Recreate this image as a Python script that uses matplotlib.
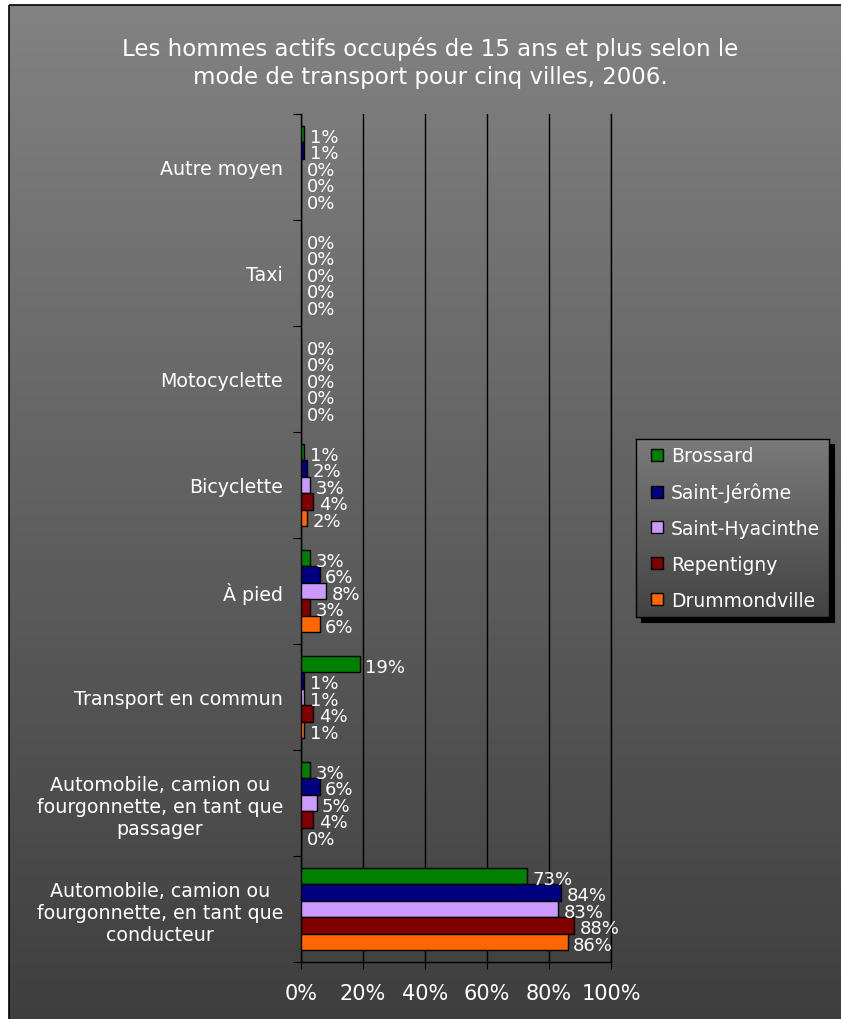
"""
Men 15+ employed, by mode of transport, five cities (2006) - horizontal grouped bars.
Saves out.png
"""

import matplotlib.pyplot as plt
import numpy as np
from matplotlib.lines import Line2D
from matplotlib.patches import Rectangle

plt.rcParams["font.family"] = ["DejaVu Sans"]

W, H = 841, 1020

CATEGORIES = [
    "Automobile, camion ou\nfourgonnette, en tant que\nconducteur",
    "Automobile, camion ou\nfourgonnette, en tant que\npassager",
    "Transport en commun",
    "À pied",
    "Bicyclette",
    "Motocyclette",
    "Taxi",
    "Autre moyen",
]

CITIES = ["Brossard", "Saint-Jérôme", "Saint-Hyacinthe", "Repentigny", "Drummondville"]
COLORS = ["#008000", "#000080", "#CC99FF", "#800000", "#FF6600"]

# percent values, same order as CATEGORIES
BROSSARD = [73, 3, 19, 3, 1, 0, 0, 1]
SAINT_JEROME = [84, 6, 1, 6, 2, 0, 0, 1]
SAINT_HYACINTHE = [83, 5, 1, 8, 3, 0, 0, 0]
REPENTIGNY = [88, 4, 4, 3, 4, 0, 0, 0]
DRUMMONDVILLE = [86, 0, 1, 6, 2, 0, 0, 0]

SERIES = [BROSSARD, SAINT_JEROME, SAINT_HYACINTHE, REPENTIGNY, DRUMMONDVILLE]

X_TICKS = [0, 20, 40, 60, 80, 100]


def px_box(left, top, right, bottom):
    """Figure-fraction rect from pixel coordinates (origin top-left)."""
    return [left / W, 1 - bottom / H, (right - left) / W, (bottom - top) / H]


def gradient(top_gray, bottom_gray, n=256):
    col = np.linspace(top_gray, bottom_gray, n)[:, None]
    return np.dstack([col, col, col])


fig = plt.figure(figsize=(W / 100, H / 100), dpi=100)
fig.patch.set_facecolor("white")

# background panel with vertical gradient
bg = fig.add_axes([0, 0, 1, 1], zorder=-10)
bg.set_xlim(0, W)
bg.set_ylim(H, 0)
bg.axis("off")
bg.imshow(gradient(0.51, 0.245), extent=(9, W, H, 6), aspect="auto", interpolation="bicubic")
bg.add_patch(Rectangle((9, 6), W, H, fill=False, edgecolor="black", linewidth=1.2))

fig.text(0.512, 1 - 63 / H,
         "Les hommes actifs occupés de 15 ans et plus selon le\nmode de transport pour cinq villes, 2006.",
         ha="center", va="center", color="white", fontsize=16.5, linespacing=1.3)

ax = fig.add_axes(px_box(301, 115, 611, 963))
ax.patch.set_alpha(0)

bar_h = 0.155
y_base = np.arange(len(CATEGORIES))
for j, (values, color) in enumerate(zip(SERIES, COLORS)):
    y = y_base + (2 - j) * bar_h
    ax.barh(y, values, height=bar_h, color=color, edgecolor="black", linewidth=1, zorder=3)
    for yy, v in zip(y, values):
        ax.annotate(f"{v}%", (v, yy), xytext=(4, -2), textcoords="offset points",
                    ha="left", va="center", color="white", fontsize=13, zorder=4)

ax.set_xlim(0, 100)
ax.set_ylim(-0.5, len(CATEGORIES) - 0.5)

ax.set_xticks(X_TICKS)
ax.set_xticklabels([f"{t}%" for t in X_TICKS], color="white", fontsize=15)
ax.tick_params(axis="x", direction="out", length=5, color="black", pad=10)

ax.set_yticks(np.arange(len(CATEGORIES) + 1) - 0.5)
ax.set_yticklabels([])
ax.set_yticks(y_base, minor=True)
ax.set_yticklabels(CATEGORIES, minor=True, color="white", fontsize=13.7)
for lbl in ax.get_yticklabels(minor=True):
    lbl.set_multialignment("center")
ax.tick_params(axis="y", which="major", direction="out", length=6, color="black")
ax.tick_params(axis="y", which="minor", length=0, pad=13)

ax.grid(axis="x", color="black", linewidth=1, zorder=0)
ax.set_axisbelow(True)
ax.spines["top"].set_visible(False)
for side in ("left", "bottom", "right"):
    ax.spines[side].set_color("black")
    ax.spines[side].set_linewidth(1)

# legend box with shadow and its own gradient
shadow = fig.add_axes(px_box(641, 445, 834, 623), zorder=4)
shadow.set_facecolor("black")
shadow.set_xticks([])
shadow.set_yticks([])

leg_ax = fig.add_axes(px_box(636, 440, 829, 618), zorder=5)
leg_ax.imshow(gradient(0.48, 0.26), extent=(0, 1, 0, 1), aspect="auto", interpolation="bicubic")
leg_ax.set_xlim(0, 1)
leg_ax.set_ylim(0, 1)
leg_ax.set_xticks([])
leg_ax.set_yticks([])
for sp in leg_ax.spines.values():
    sp.set_color("black")
    sp.set_linewidth(1)

handles = [Line2D([], [], marker="s", linestyle="none", markersize=9,
                  markerfacecolor=c, markeredgecolor="black", markeredgewidth=1)
           for c in COLORS]
leg = leg_ax.legend(handles, CITIES, loc="center left", bbox_to_anchor=(0.0, 0.5),
                    frameon=False, fontsize=13.5, labelcolor="white",
                    labelspacing=0.9, handlelength=0.8, handletextpad=0.35, borderaxespad=0.3)

fig.savefig("out.png", dpi=100)
